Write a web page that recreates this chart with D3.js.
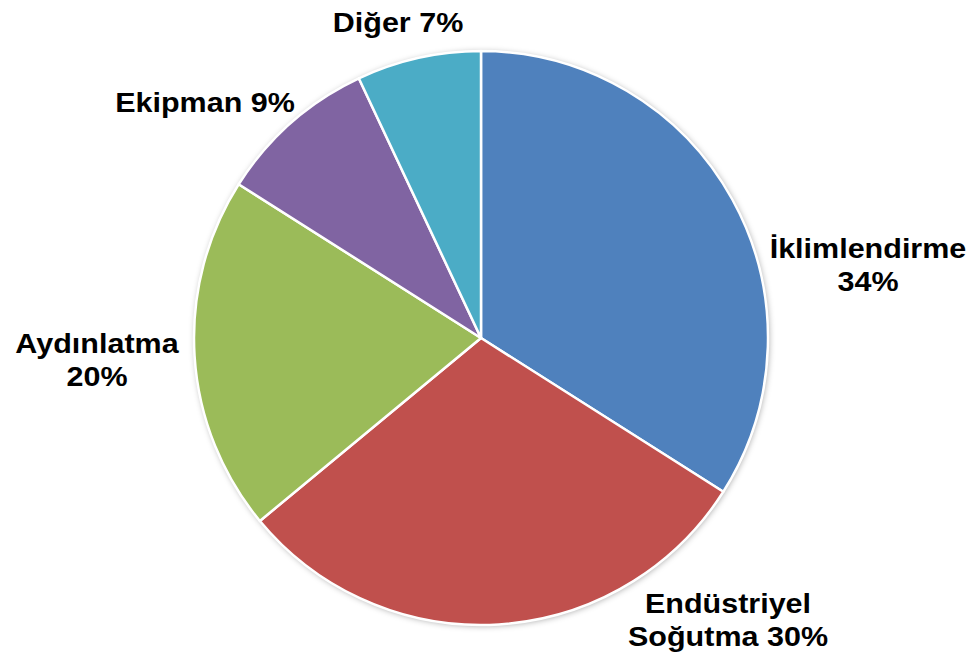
<!DOCTYPE html>
<html>
<head>
<meta charset="utf-8">
<script src="https://cdn.jsdelivr.net/npm/d3@7"></script>
<style>
  body { margin: 0; background: #fff; }
  svg { display: block; }
</style>
</head>
<body>
<svg id="chart"></svg>
<script>
const categories = ['İklimlendirme', 'Endüstriyel Soğutma', 'Aydınlatma', 'Ekipman', 'Diğer']
const values = [34, 30, 20, 9, 7]
const labelLines = [
  ['İklimlendirme', '34%'],
  ['Endüstriyel', 'Soğutma 30%'],
  ['Aydınlatma', '20%'],
  ['Ekipman 9%'],
  ['Diğer 7%']
]
const colors = ['#4F81BD', '#C0504D', '#9BBB59', '#8064A2', '#4BACC6']

const width = 974
const height = 658
const cx = 481
const cy = 338
const radius = 287

// label block centres, relative to the pie centre
const labelOffsets = [[387, -73], [247, 282], [-384, 22], [-276, -236], [-83, -316]]

const svg = d3.select('#chart')
  .attr('width', width)
  .attr('height', height)

const defs = svg.append('defs')
const shadow = defs.append('filter')
  .attr('id', 'shadow')
  .attr('x', '-10%').attr('y', '-10%')
  .attr('width', '120%').attr('height', '120%')
shadow.append('feDropShadow')
  .attr('dx', 1).attr('dy', 1)
  .attr('stdDeviation', 3)
  .attr('flood-color', '#000')
  .attr('flood-opacity', 0.35)

const g = svg.append('g')
  .attr('transform', 'translate(' + cx + ',' + cy + ')')

const pie = d3.pie().sort(null).value(d => d)
const arc = d3.arc().innerRadius(0).outerRadius(radius)
const color = d3.scaleOrdinal().domain(categories).range(colors)

const arcs = pie(values)

g.append('circle')
  .attr('r', radius)
  .attr('fill', '#fff')
  .attr('filter', 'url(#shadow)')

g.selectAll('path.slice')
  .data(arcs)
  .join('path')
  .attr('class', 'slice')
  .attr('d', arc)
  .attr('fill', (d, i) => color(categories[i]))
  .attr('stroke', '#fff')
  .attr('stroke-width', 2.5)
  .attr('stroke-linejoin', 'round')

/// labels ////////////////////////////////
const fontSize = 27
const lineHeight = 33
const stretch = 1.13

const labels = g.selectAll('text.label')
  .data(arcs)
  .join('text')
  .attr('class', 'label')
  .attr('text-anchor', 'middle')
  .attr('font-family', 'Liberation Sans, Arial, sans-serif')
  .attr('font-weight', 'bold')
  .attr('font-size', fontSize)
  .attr('fill', '#000')
  .attr('transform', (d, i) => 'translate(' + labelOffsets[i][0] + ',' + labelOffsets[i][1] + ') scale(' + stretch + ',1)')

labels.each(function(d, i) {
  const lines = labelLines[i]
  const top = -((lines.length - 1) * lineHeight) / 2 + fontSize * 0.36
  d3.select(this).selectAll('tspan')
    .data(lines)
    .join('tspan')
    .attr('x', 0)
    .attr('y', (l, j) => top + j * lineHeight)
    .text(l => l)
})
</script>
</body>
</html>
